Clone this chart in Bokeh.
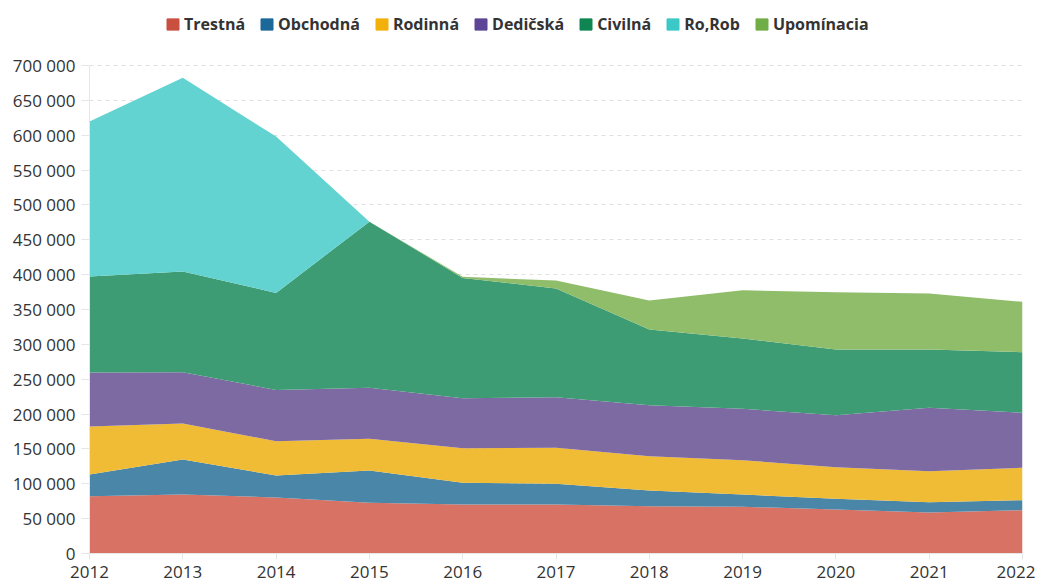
from bokeh.plotting import figure
from bokeh.models import ColumnDataSource, Legend, LegendItem, FixedTicker, CustomJSTickFormatter, Range1d
from bokeh.embed import file_html
from bokeh.resources import INLINE

years = [2012, 2013, 2014, 2015, 2016, 2017, 2018, 2019, 2020, 2021, 2022]
names = ["Trestná", "Obchodná", "Rodinná", "Dedičská", "Civilná", "Ro,Rob", "Upomínacia"]
trestna = [82000, 84600, 80300, 72700, 70300, 70300, 67900, 67000, 63100, 58800, 62100]
obchodna = [31300, 50200, 31600, 46300, 31100, 29600, 22400, 17600, 15300, 14800, 14300]
rodinna = [68800, 51600, 49100, 45500, 49600, 51700, 49300, 49200, 45400, 44400, 46500]
dedicska = [77500, 73600, 73700, 73100, 71700, 72600, 73100, 73700, 74600, 90900, 78900]
civilna = [137600, 144400, 139100, 238400, 172600, 155800, 108500, 100800, 94100, 83600, 86900]
rorob = [222300, 278200, 224200, 0, 0, 0, 0, 0, 0, 0, 0]
upominacia = [0, 0, 0, 0, 1500, 11500, 41600, 69300, 82300, 80300, 72300]
y_ticks = list(range(0, 700001, 50000))

legend_colors = ["#c94f41", "#1b6899", "#f2b00b", "#5d4596", "#0e8552", "#3bc9c8", "#70ad47"]
area_colors = ["#d77265", "#4a86a8", "#f0bb35", "#7e6aa3", "#3d9c73", "#62d3d1", "#8fbd6a"]

keys = ["s0", "s1", "s2", "s3", "s4", "s5", "s6"]
series = [trestna, obchodna, rodinna, dedicska, civilna, rorob, upominacia]
data = {"x": years}
for k, s in zip(keys, series):
    data[k] = s
src = ColumnDataSource(data)

# frame: 544 px tall, with 700 000 located 56 px below its top
frame_h = 544
y_top = 700000 * frame_h / 488.0

p = figure(width=1035, height=583, output_backend="svg", toolbar_location=None,
           x_range=Range1d(2012, 2022), y_range=Range1d(0, y_top),
           min_border_left=89, min_border_right=13, min_border_top=9, min_border_bottom=30)
p.outline_line_color = None
p.background_fill_color = "white"

p.varea_stack(stackers=keys, x="x", color=area_colors, source=src)

items = []
for n, c in zip(names, legend_colors):
    r = p.quad(left=[2012], right=[2012.1], bottom=[-200000], top=[-100000], color=c)
    items.append(LegendItem(label=n, renderers=[r]))

legend = Legend(items=items, orientation="horizontal", location=(76, 518),
                label_text_font="Open Sans", label_text_font_size="16px",
                label_text_font_style="bold", label_text_color="#333333",
                glyph_width=15, glyph_height=14, label_standoff=4, spacing=14,
                border_line_color=None, background_fill_alpha=0, padding=2, margin=0)
p.add_layout(legend, "center")

p.xaxis.ticker = FixedTicker(ticks=years)
p.yaxis.ticker = FixedTicker(ticks=y_ticks)
p.yaxis.bounds = (0, 700000)
p.yaxis.formatter = CustomJSTickFormatter(code="return tick.toString().replace(/\\B(?=(\\d{3})+(?!\\d))/g, ' ');")

for ax in (p.xaxis[0], p.yaxis[0]):
    ax.axis_line_color = "#e6e6e6"
    ax.major_tick_line_color = "#e6e6e6"
    ax.minor_tick_line_color = None
    ax.major_label_text_font = "Open Sans"
    ax.major_label_text_font_size = "17px"
    ax.major_label_text_color = "#333333"
p.yaxis.major_tick_out = 8
p.yaxis.major_tick_in = 0
p.yaxis.major_label_standoff = 6
p.xaxis.major_tick_out = 6
p.xaxis.major_tick_in = 0
p.xaxis.major_label_standoff = 6

p.xgrid.grid_line_color = None
p.ygrid.grid_line_color = "#e0e0e0"
p.ygrid.grid_line_dash = "4 4"
p.ygrid.grid_line_width = 1

open("out.html", "w").write(file_html(p, INLINE))
